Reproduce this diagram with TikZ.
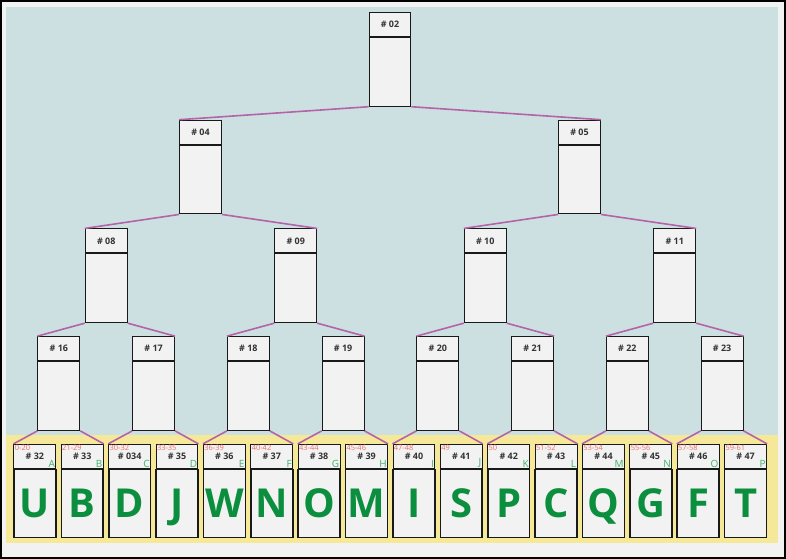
\documentclass[tikz,border=0pt]{standalone}
\usepackage{fontspec}
\setmainfont{Open Sans}
\usetikzlibrary{positioning}
\definecolor{skyback}{HTML}{CDE0E1}
\definecolor{sandback}{HTML}{F5E899}
\definecolor{paper}{HTML}{F2F2F2}
\definecolor{linkpurple}{HTML}{B463A8}
\definecolor{leafgreen}{HTML}{0B8F3E}
\definecolor{tagred}{HTML}{EE6F66}
\definecolor{taggreen}{HTML}{3DB46A}
\tikzset{
  hbox/.style={draw=black!90, fill=paper, line width=1pt, minimum width=42pt, minimum height=24pt,
    inner sep=0pt, anchor=north, font=\fontsize{9}{9}\selectfont\bfseries, text=black!80},
  bbox/.style={draw=black!90, fill=paper, line width=1pt, minimum width=42pt, minimum height=69pt,
    inner sep=0pt, below=0pt of #1},
  lbody/.style={draw=black!90, fill=paper, line width=1.6pt, minimum width=42pt, minimum height=68pt,
    inner sep=0pt, text depth=0pt, font=\fontsize{40}{40}\selectfont\bfseries, text=leafgreen, below=0pt of #1},
  rng/.style={anchor=north west, inner sep=1.2pt, font=\fontsize{7.5}{7.5}\selectfont, text=tagred},
  tag/.style={anchor=south east, inner sep=1.2pt, font=\fontsize{10}{10}\selectfont, text=taggreen},
  link/.style={draw=linkpurple, line width=1.6pt}
}
\begin{document}
\begin{tikzpicture}[x=1pt,y=-1pt]
% backdrop
\draw[fill=paper, line width=2pt] (0,0) rectangle (786,558);
\fill[skyback] (5,6) rectangle (779,435);
\fill[sandback] (5,435) rectangle (779,543);
% inner nodes, one row at a time
\node[hbox] (h02) at (390,11) {\# 02};
\node[bbox=h02] (b02) {};
\foreach \n [count=\i from 0] in {04,05} {
  \node[hbox] (h\n) at ({200+380*\i},119) {\# \n};
  \node[bbox=h\n] (b\n) {};
}
\foreach \n [count=\i from 0] in {08,09,10,11} {
  \node[hbox] (h\n) at ({105.5+190*\i},228) {\# \n};
  \node[bbox=h\n] (b\n) {};
}
\foreach \n [count=\i from 0] in {16,...,23} {
  \node[hbox] (h\n) at ({58+95*\i},336) {\# \n};
  \node[bbox=h\n] (b\n) {};
}
% leaves
\foreach \n/\t/\r/\s/\L [count=\i from 0] in {32/32/0-20/A/U, 33/33/21-29/B/B, 34/034/30-32/C/D,
    35/35/33-35/D/J, 36/36/36-39/E/W, 37/37/40-42/F/N, 38/38/43-44/G/O, 39/39/45-46/H/M,
    40/40/47-48/I/I, 41/41/49/J/S, 42/42/50/K/P, 43/43/51-52/L/C, 44/44/53-54/M/Q,
    45/45/55-56/N/G, 46/46/57-58/O/F, 47/47/59-61/P/T} {
  \node[hbox] (h\n) at ({34+47.5*\i},444) {\# \t};
  \node[lbody=h\n] (b\n) {\L};
  \node[rng] at (h\n.north west) {\r};
  \node[tag] at (h\n.south east) {\s};
}
% connectors
\foreach \p/\l/\r in {02/04/05, 04/08/09, 05/10/11, 08/16/17, 09/18/19, 10/20/21, 11/22/23,
    16/32/33, 17/34/35, 18/36/37, 19/38/39, 20/40/41, 21/42/43, 22/44/45, 23/46/47} {
  \draw[link] (b\p.south west) -- (h\l.north west);
  \draw[link] (b\p.south east) -- (h\r.north east);
}
\end{tikzpicture}
\end{document}
